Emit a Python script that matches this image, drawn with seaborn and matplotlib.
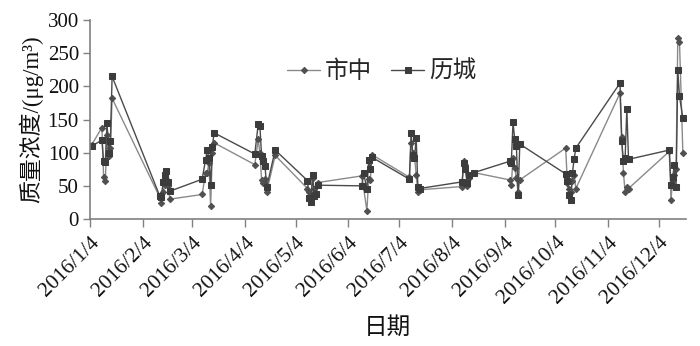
import matplotlib
matplotlib.use("Agg")
import matplotlib.pyplot as plt
import seaborn as sns
import pandas as pd

dates = [
    '2016-01-05', '2016-01-11', '2016-01-12', '2016-01-13', '2016-01-14', '2016-01-15', '2016-01-16', '2016-01-17',
    '2016-02-14', '2016-02-15', '2016-02-16', '2016-02-17', '2016-02-18', '2016-02-19', '2016-02-20',
    '2016-03-10', '2016-03-12', '2016-03-13', '2016-03-14', '2016-03-15', '2016-03-16', '2016-03-17',
    '2016-04-10', '2016-04-12', '2016-04-13', '2016-04-14', '2016-04-15', '2016-04-16', '2016-04-17', '2016-04-22',
    '2016-05-11', '2016-05-12', '2016-05-13', '2016-05-14', '2016-05-15', '2016-05-16', '2016-05-17',
    '2016-06-12', '2016-06-13', '2016-06-15', '2016-06-16', '2016-06-17', '2016-06-18',
    '2016-07-10', '2016-07-11', '2016-07-12', '2016-07-13', '2016-07-14', '2016-07-15', '2016-07-16',
    '2016-08-10', '2016-08-11', '2016-08-12', '2016-08-13', '2016-08-14', '2016-08-17',
    '2016-09-07', '2016-09-08', '2016-09-09', '2016-09-10', '2016-09-11', '2016-09-12', '2016-09-13',
    '2016-10-10', '2016-10-11', '2016-10-12', '2016-10-13', '2016-10-14', '2016-10-15', '2016-10-16',
    '2016-11-11', '2016-11-12', '2016-11-13', '2016-11-14', '2016-11-15', '2016-11-16',
    '2016-12-10', '2016-12-11', '2016-12-12', '2016-12-13', '2016-12-14', '2016-12-15', '2016-12-16', '2016-12-18',
]

shizhong = [
    112, 138, 63, 57, 127, 95, 107, 182,
    33, 24, 40, 52, 60, 50, 30,
    37, 70, 70, 85, 19, 100, 115,
    82, 120, 100, 59, 55, 60, 41, 96,
    46, 40, 32, 62, 45, 38, 55,
    65, 48, 12, 60, 59, 97,
    63, 115, 100, 95, 67, 40, 44,
    49, 88, 82, 50, 62, 70,
    59, 51, 92, 77, 62, 40, 59,
    107, 55, 46, 40, 58, 66, 46,
    190, 123, 70, 40, 49, 46,
    102, 29, 60, 66, 75, 273, 267, 99,
]

licheng = [
    110, 119, 87, 86, 145, 100, 118, 215,
    35, 33, 56, 66, 73, 56, 42,
    60, 89, 104, 92, 51, 108, 130,
    98, 143, 140, 95, 87, 80, 48, 104,
    58, 31, 25, 66, 35, 37, 51,
    50, 70, 45, 89, 75, 93,
    60, 130, 97, 92, 122, 49, 46,
    56, 84, 75, 55, 66, 70,
    87, 85, 146, 120, 110, 36, 113,
    68, 58, 36, 29, 70, 91, 107,
    205, 117, 87, 92, 166, 90,
    104, 51, 64, 82, 49, 224, 185, 152,
]

series_names = ['市中', '历城']
tick_dates = ['2016-01-04', '2016-02-04', '2016-03-04', '2016-04-04', '2016-05-04', '2016-06-04',
              '2016-07-04', '2016-08-04', '2016-09-04', '2016-10-04', '2016-11-04', '2016-12-04']
tick_labels = ['2016/1/4', '2016/2/4', '2016/3/4', '2016/4/4', '2016/5/4', '2016/6/4',
               '2016/7/4', '2016/8/4', '2016/9/4', '2016/10/4', '2016/11/4', '2016/12/4']
y_ticks = [0, 50, 100, 150, 200, 250, 300]

sns.set_style('ticks')
plt.rcParams['font.family'] = ['Liberation Serif', 'Noto Sans CJK SC']
plt.rcParams['axes.unicode_minus'] = False

df = pd.DataFrame({
    'date': pd.to_datetime(dates * 2),
    'value': shizhong + licheng,
    'site': [series_names[0]] * len(dates) + [series_names[1]] * len(dates),
})

fig = plt.figure(figsize=(7.0, 3.46), dpi=100)
ax = fig.add_axes([0.1286, 0.367, 0.851, 0.575])

styles = {
    '市中': dict(color='#8a8a8a', marker='D', markersize=3.2, markerfacecolor='#505050',
                 markeredgecolor='#505050', linewidth=1.0),
    '历城': dict(color='#4a4a4a', marker='s', markersize=5.0, markerfacecolor='#3c3c3c',
                 markeredgecolor='#3c3c3c', linewidth=1.0),
}
for name in series_names:
    sub = df[df['site'] == name]
    sns.lineplot(data=sub, x='date', y='value', ax=ax, estimator=None, sort=False,
                 label=name, **styles[name])

ax.set_ylim(0, 300)
ax.set_yticks(y_ticks)
ax.set_xlim(pd.Timestamp('2016-01-04'), pd.Timestamp('2016-12-19 16:00'))
ax.set_xticks(pd.to_datetime(tick_dates))
ax.set_xticklabels(tick_labels, rotation=45, ha='right', rotation_mode='anchor', fontsize=15.5)
ax.tick_params(axis='y', labelsize=15, length=5, width=1.0, color='#808080', pad=3,
               labelcolor='#111111')
ax.tick_params(axis='x', length=6, width=1.0, color='#808080', pad=4, labelcolor='#111111')

for s in ['top', 'right']:
    ax.spines[s].set_visible(False)
for s in ['left', 'bottom']:
    ax.spines[s].set_color('#808080')
    ax.spines[s].set_linewidth(1.2)

ax.set_ylabel('质量浓度/(μg/m³)', fontsize=16.5, labelpad=3, color='#111111')
ax.set_xlabel('日期', fontsize=17, labelpad=6, family=['Noto Sans CJK SC'], color='#111111')

leg = ax.legend(loc='center', bbox_to_anchor=(0.49, 0.74), ncol=2, frameon=False,
                fontsize=17, handlelength=1.4, handletextpad=0.2, columnspacing=0.8)

fig.savefig('out.png', dpi=100)
